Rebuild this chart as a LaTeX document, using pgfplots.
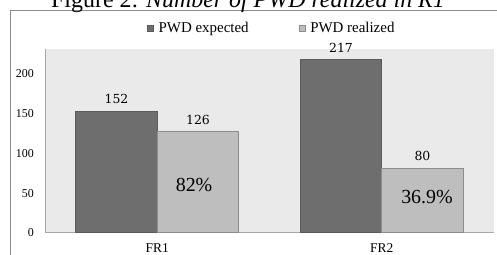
\documentclass[border=0pt]{standalone}
\usepackage{fontspec}
\setmainfont{Liberation Serif}
\newfontfamily\dejaserif{DejaVu Serif}
\usepackage{pgfplots}
\pgfplotsset{compat=1.18}
\definecolor{expfill}{HTML}{6E6E6E}
\definecolor{expedge}{HTML}{5A5A5A}
\definecolor{realfill}{HTML}{BEBEBE}
\definecolor{realedge}{HTML}{8C8C8C}
\definecolor{bgcol}{HTML}{EAEAEA}
\definecolor{axcol}{HTML}{A6A6A6}
\definecolor{framecol}{HTML}{8C8C8C}
\pgfplotsset{sqlegend/.style={legend image code/.code={\draw[##1] (0bp,-3bp) rectangle (6bp,3bp);}}}
\begin{document}
\begin{tikzpicture}
\path[use as bounding box] (0bp,0bp) rectangle (497bp,-255bp);
\draw[framecol, line width=0.8bp] (10bp,-270bp) -- (10bp,-10.5bp) -- (520bp,-10.5bp);
\node[anchor=base, inner sep=0pt, font=\fontsize{24}{24}\selectfont] at (248bp,-7.3bp) {Figure 2: \textit{Number of PWD realized in R1}};
\begin{axis}[
  at={(45bp,-232bp)}, anchor=south west,
  scale only axis, width=449bp, height=183bp,
  xmin=0, xmax=2, ymin=0, ymax=230,
  clip=false,
  axis background/.style={fill=bgcol},
  axis x line=bottom, axis y line=left,
  axis line style={draw=axcol, line width=0.8bp, -},
  major tick length=0pt,
  xtick={0.5,1.5}, xticklabels={FR1,FR2},
  ytick={0,50,100,150,200},
  /pgf/number format/assume math mode=true,
  yticklabel style={font=\fontsize{12}{12}\selectfont, inner sep=0pt, anchor=east, xshift=-11bp, yshift=-1bp},
  xticklabel style={font=\fontsize{13.5}{13.5}\selectfont, inner sep=0pt, anchor=base, yshift=-20.8bp},
  nodes near coords,
  nodes near coords style={font=\dejaserif\fontsize{12.5}{12.5}\selectfont, inner sep=0pt, anchor=south, yshift=7bp},
  legend columns=2,
  legend style={at={(axis description cs:0.2272,1.1148)}, anchor=west, draw=none, fill=none,
    inner sep=0pt, outer sep=0pt, font=\fontsize{15}{15}\selectfont,
    nodes={inner sep=0pt},
    /tikz/every odd column/.append style={column sep=5bp},
    /tikz/every even column/.append style={column sep=50bp}},
]
\addplot[ybar, bar width=0.363, bar shift=0pt, fill=expfill, draw=expedge, line width=0.6bp, sqlegend]
  coordinates {(0.3185,152) (1.3185,217)};
\addlegendentry{PWD expected}
\addplot[ybar, bar width=0.363, bar shift=0pt, fill=realfill, draw=realedge, line width=0.6bp, sqlegend]
  coordinates {(0.6815,126) (1.6815,80)};
\addlegendentry{PWD realized}
\node[font=\fontsize{20}{20}\selectfont, inner sep=0pt] at (axis cs:0.664,59) {82\%};
\node[font=\fontsize{20}{20}\selectfont, inner sep=0pt] at (axis cs:1.7016,44) {36.9\%};
\end{axis}
\end{tikzpicture}
\end{document}
